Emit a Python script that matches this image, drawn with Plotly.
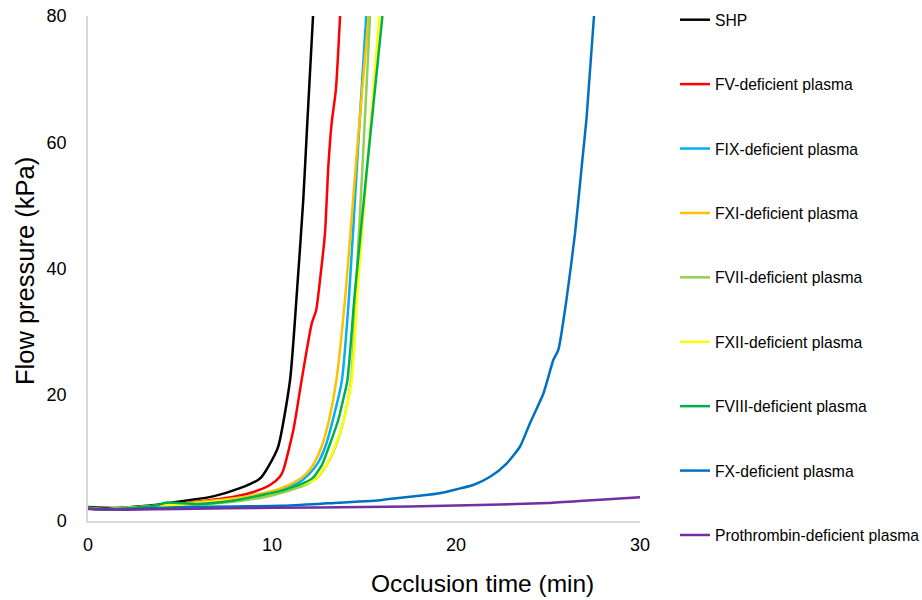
import plotly.graph_objects as go

# Occlusion time (min) / flow pressure (kPa) readings for each plasma
shp_t = [0, 1.4, 3.2, 5.0, 6.8, 8.26, 9.24, 9.44, 9.8, 10.33, 10.98, 11.35, 11.7, 11.89, 12.23]
shp_p = [2.2, 2.06, 2.4, 3.1, 3.9, 5.2, 6.5, 7.0, 8.6, 11.7, 22.3, 36.1, 50.9, 61.5, 80]

fv_t = [0, 1, 2, 4, 6, 8, 9, 9.89, 10.43, 10.62, 11.16, 11.61, 12.16, 12.4, 12.61, 12.88, 13.06, 13.24, 13.47, 13.7]
fv_p = [2.0, 1.8, 2.0, 2.5, 3.1, 3.9, 4.6, 5.7, 7.0, 8.1, 14.4, 22.3, 31.3, 33.4, 38.2, 45.6, 56.1, 63.0, 68.3, 80]

fix_t = [0, 1, 2, 4, 6, 8, 9.5, 10.5, 11.4, 12.0, 12.5, 12.9, 13.35, 13.8, 14.2, 14.65, 15.12]
fix_p = [2.0, 1.8, 2.0, 2.4, 2.9, 3.5, 4.2, 5.0, 6.0, 7.4, 9.2, 11.8, 16.5, 22.3, 36.1, 58, 80]

fxi_t = [0, 1, 2, 4, 6, 8, 9.5, 10.5, 11.2, 11.9, 12.3, 12.7, 13.1, 13.5, 14.0, 14.6, 15.25]
fxi_p = [2.0, 1.8, 2.0, 2.5, 3.0, 3.6, 4.4, 5.2, 6.1, 7.6, 9.2, 11.8, 16.0, 22.3, 36.1, 58, 80]

fvii_t = [0, 1, 2, 4, 6, 8, 9.7, 10.8, 12.0, 12.5, 13.0, 13.45, 13.9, 14.3, 14.55, 14.95, 15.33]
fvii_p = [2.0, 1.8, 2.0, 2.3, 2.6, 3.1, 3.85, 4.7, 6.0, 7.0, 9.0, 11.8, 16.0, 22.3, 36.1, 58, 80]

fxii_t = [0, 1, 2, 4, 6, 8, 9.5, 10.5, 11.4, 12.3, 12.9, 13.42, 13.9, 14.33, 14.64, 15.2, 15.83]
fxii_p = [2.1, 1.9, 2.1, 2.4, 2.8, 3.4, 4.1, 4.8, 5.6, 6.5, 8.6, 11.8, 16.0, 22.3, 36.1, 57, 80]

fviii_t = [0, 1, 2, 3.8, 4.2, 6, 8, 9, 10.5, 11.7, 12.2, 12.7, 13.1, 13.6, 13.85, 14.1, 14.5, 15.2, 16.0]
fviii_p = [2.0, 1.8, 2.0, 2.5, 2.9, 2.7, 3.3, 3.85, 4.8, 6.0, 6.8, 8.8, 11.8, 16.0, 19.0, 22.3, 36.1, 57, 80]

fx_t = [0, 2, 5, 8, 10.43, 13, 15.87, 17, 18, 19.13, 20, 20.94, 21.85, 22.75, 23.48, 24.02, 24.75,
        25.29, 25.56, 26.0, 26.47, 26.83, 27.1, 27.5]
fx_p = [2.0, 1.9, 2.17, 2.3, 2.4, 2.8, 3.3, 3.7, 4.0, 4.4, 5.0, 5.7, 7.0, 9.1, 11.8, 15.5, 20.2,
        25.5, 27.1, 35.0, 45.6, 56.1, 64.0, 80]

pt_t = [0, 2, 5, 10, 15, 20, 25, 27.4, 30]
pt_p = [1.9, 1.8, 1.9, 2.1, 2.2, 2.45, 2.85, 3.3, 3.75]

series_names = [
    "SHP", "FV-deficient plasma", "FIX-deficient plasma", "FXI-deficient plasma",
    "FVII-deficient plasma", "FXII-deficient plasma", "FVIII-deficient plasma",
    "FX-deficient plasma", "Prothrombin-deficient plasma",
]
series_t = [shp_t, fv_t, fix_t, fxi_t, fvii_t, fxii_t, fviii_t, fx_t, pt_t]
series_p = [shp_p, fv_p, fix_p, fxi_p, fvii_p, fxii_p, fviii_p, fx_p, pt_p]
series_colors = ["#000000", "#FF0000", "#00B0F0", "#FFC000", "#92D050",
                 "#FFFF00", "#00B050", "#0070C0", "#7030A0"]

x_ticks = [0, 10, 20, 30]
y_ticks = [0, 20, 40, 60, 80]

fig = go.Figure()
for i, (name, t, p, c) in enumerate(zip(series_names, series_t, series_p, series_colors)):
    fig.add_trace(go.Scatter(
        x=t, y=p, name=name, mode="lines",
        line=dict(color=c, width=2.5, shape="spline", smoothing=0.6),
        legendgroup=f"g{i}",
    ))

font_family = "Liberation Sans, Arial, sans-serif"

fig.update_layout(
    width=922, height=600,
    margin=dict(l=88, r=282, t=16, b=79, autoexpand=False),
    plot_bgcolor="white", paper_bgcolor="white",
    font=dict(family=font_family, color="#000000"),
    showlegend=True,
    legend=dict(
        x=(675 - 88) / 552, xanchor="left",
        y=1.0 + 13 / 505, yanchor="top",
        font=dict(size=15.7, family=font_family, color="#000000"),
        tracegroupgap=41,
        itemwidth=30,
        maxheight=600,
        bgcolor="rgba(0,0,0,0)",
    ),
    xaxis=dict(
        range=[0, 30], tickvals=x_ticks, showgrid=False, zeroline=False,
        showline=True, linecolor="#D9D9D9", linewidth=1.5,
        tickfont=dict(size=18, family=font_family, color="#000000"),
        ticks="", ticklabelstandoff=7,
    ),
    yaxis=dict(
        range=[0, 80], tickvals=y_ticks, showgrid=False, zeroline=False,
        showline=True, linecolor="#D9D9D9", linewidth=1.5,
        tickfont=dict(size=18, family=font_family, color="#000000"),
        ticks="", ticklabelstandoff=16,
    ),
    annotations=[
        dict(text="Occlusion time (min)", xref="paper", yref="paper",
             x=(482 - 88) / 552, y=-(583 - 521) / 505, xanchor="center", yanchor="middle",
             showarrow=False, font=dict(size=24.5, family=font_family, color="#000000")),
        dict(text="Flow pressure (kPa)", xref="paper", yref="paper",
             x=(25 - 88) / 552, y=(521 - 271) / 505, xanchor="center", yanchor="middle",
             textangle=-90, showarrow=False,
             font=dict(size=25.5, family=font_family, color="#000000")),
    ],
)

fig.write_html("out.html")
